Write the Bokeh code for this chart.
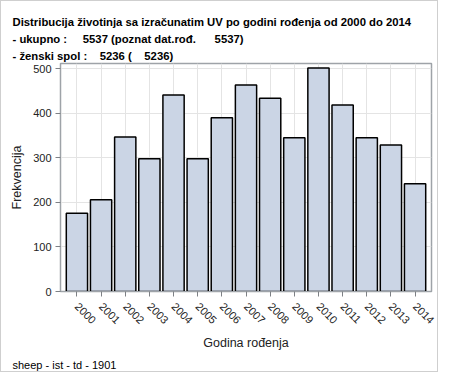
import math
from bokeh.plotting import figure
from bokeh.models import FactorRange, Range1d, FixedTicker, Title, ColumnDataSource
from bokeh.embed import file_html
from bokeh.resources import INLINE

years = [str(y) for y in range(2000, 2015)]
counts = [176, 206, 347, 298, 441, 298, 390, 464, 434, 345, 502, 419, 345, 329, 242]
y_ticks = [0, 100, 200, 300, 400, 500]

NB = "\u00a0"
title_lines = [
    "Distribucija \u017eivotinja sa izra\u010dunatim UV po godini ro\u0111enja od 2000 do 2014",
    "- ukupno :" + NB * 5 + "5537 (poznat dat.ro\u0111." + NB * 6 + "5537)",
    "- \u017eenski spol :" + NB * 4 + "5236 (" + NB * 4 + "5236)",
]
footnote = "sheep - ist - td - 1901"
x_title = "Godina ro\u0111enja"
y_title = "Frekvencija"

FONT = "Liberation Sans"
W, H = 438, 372
BL, BR, BT, BB = 59, 8, 62, 78
TX = 11  # left edge of header/footer texts within the canvas

src = ColumnDataSource(dict(year=years, count=counts))

p = figure(
    width=W, height=H,
    x_range=FactorRange(factors=years, range_padding=0.024),
    y_range=Range1d(0, 512),
    output_backend="svg", toolbar_location=None,
    min_border_left=BL, min_border_right=BR, min_border_top=BT, min_border_bottom=BB,
)
p.vbar(x="year", top="count", width=0.88, source=src,
       fill_color="#cbd5e5", line_color="black", line_width=1.5)

p.outline_line_color = "#9ea3a8"
p.outline_line_width = 1.5
p.background_fill_color = "white"
p.border_fill_color = "white"

for g in (p.xgrid, p.ygrid):
    g.grid_line_color = "#e4e4e4"
    g.grid_line_width = 1

p.yaxis.ticker = FixedTicker(ticks=y_ticks)
for ax in (p.xaxis, p.yaxis):
    ax.axis_line_color = "#9ea3a8"
    ax.major_tick_line_color = "#7d8085"
    ax.major_tick_out = 5
    ax.major_tick_in = 0
    ax.minor_tick_line_color = None
    ax.major_label_text_font = FONT
    ax.major_label_text_font_size = "11px"
    ax.major_label_text_color = "#222222"
    ax.axis_label_text_font = FONT
    ax.axis_label_text_font_size = "12.5px"
    ax.axis_label_text_font_style = "normal"
    ax.axis_label_text_color = "#222222"
p.xaxis.major_label_orientation = -math.pi / 4
p.xaxis.axis_label = x_title
p.yaxis.axis_label = y_title
p.yaxis.major_label_standoff = 4
p.yaxis.axis_label_standoff = 6
p.xaxis.major_label_standoff = 8
p.xaxis.axis_label_standoff = 6

# header lines: the first added sits closest to the frame
for txt in reversed(title_lines):
    p.add_layout(Title(text=txt, align="left", offset=-(BL - TX), standoff=3,
                       text_font=FONT, text_font_size="11.3px", text_font_style="bold",
                       text_color="black"), "above")
p.add_layout(Title(text=footnote, align="left", offset=-(BL - TX), standoff=6,
                   text_font=FONT, text_font_size="11px", text_font_style="normal",
                   text_color="black"), "below")

p.styles = {"border": "1px solid #cfcfcf"}

open("out.html", "w").write(file_html(p, INLINE))
